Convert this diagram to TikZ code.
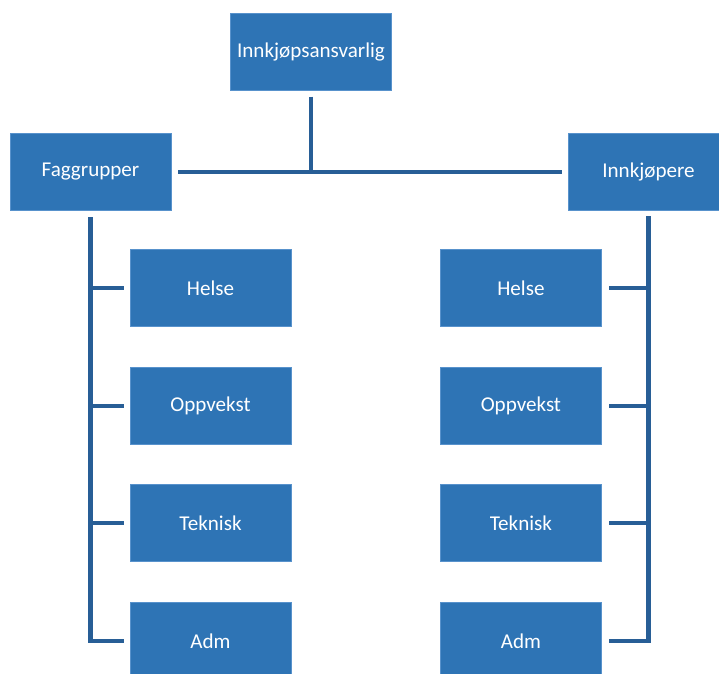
\documentclass[tikz,border=0pt]{standalone}
\usepackage{fontspec}
\setmainfont{Carlito}
\usepackage{tikz}
\usetikzlibrary{positioning,calc}
\definecolor{boxblue}{RGB}{46,116,181}
\definecolor{boxedge}{RGB}{88,146,204}
\definecolor{lineblue}{RGB}{40,94,150}
\tikzstyle{unit}=[rectangle, fill=boxblue, draw=boxedge, line width=0.5pt, text=white, minimum width=4.02cm, minimum height=1.92cm, inner sep=0pt, font=\fontsize{15}{18}\selectfont]
\tikzstyle{link}=[draw=lineblue, line width=2.9pt]

\begin{document}
\begin{tikzpicture}[node distance=2.94cm,on grid]
	\useasboundingbox (0,0) rectangle (17.975,16.85);
	\node[unit] (top) at (7.775,15.55) {Innkjøpsansvarlig};
	\node[unit] (fag) at (2.2625,12.56) {Faggrupper};
	\node[unit] (inn) at (16.2125,12.56) {Innkjøpere};
	% faggrupper
	\node[unit, below right=2.91cm and 3cm of fag] (fH) {Helse};
	\node[unit, below of=fH] (fO) {Oppvekst};
	\node[unit, below of=fO] (fT) {Teknisk};
	\node[unit, below of=fT] (fA) {Adm};
	% innkjopere
	\node[unit, below left=2.91cm and 3.19cm of inn] (iH) {Helse};
	\node[unit, below of=iH] (iO) {Oppvekst};
	\node[unit, below of=iO] (iT) {Teknisk};
	\node[unit, below of=iT] (iA) {Adm};
	% lines
	\draw[link] ([yshift=-0.15cm]top.south) -- (top.south |- fag.east);
	\draw[link, shorten <=0.18cm, shorten >=0.15cm] (fag.east) -- (inn.west);
	\draw[link] ([yshift=-0.17cm]fag.south) |- ([xshift=-0.15cm]fA.west);
	\draw[link] ([yshift=-0.15cm]inn.south) |- ([xshift=0.18cm]iA.east);
	\foreach \n in {fH,fO,fT}
		\draw[link] (fag.south |- \n.west) -- ([xshift=-0.15cm]\n.west);
	\foreach \n in {iH,iO,iT}
		\draw[link] (inn.south |- \n.east) -- ([xshift=0.18cm]\n.east);
\end{tikzpicture}
\end{document}
